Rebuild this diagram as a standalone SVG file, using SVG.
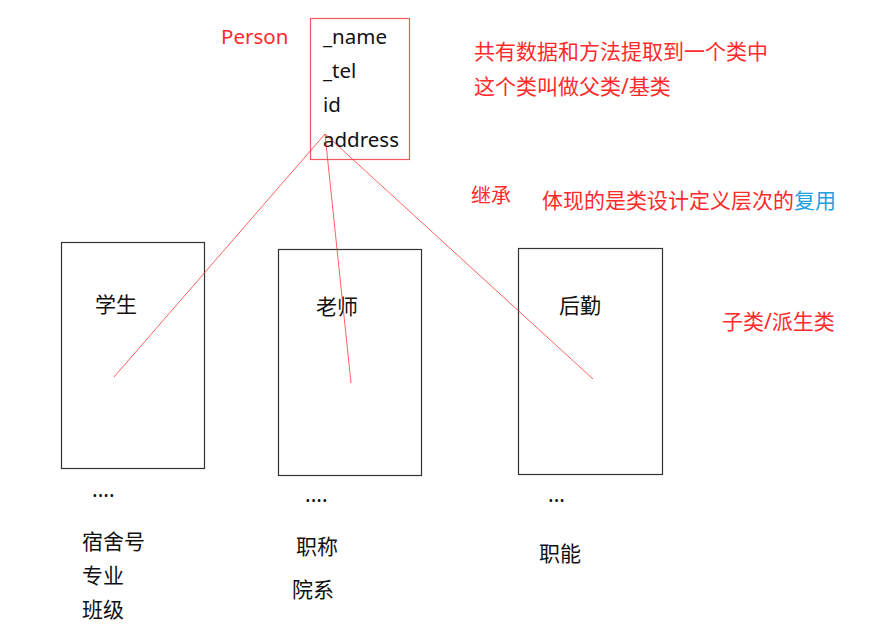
<svg xmlns="http://www.w3.org/2000/svg" width="885" height="643" viewBox="0 0 885 643">
<style>
text{font-family:"Noto Sans","Noto Sans CJK SC",sans-serif;font-size:21px;fill:#111}
.r{fill:#ff2a2a}
.b{fill:#1ea0e0}
.box{fill:none;stroke:#333;stroke-width:1.2}
.pbox{fill:none;stroke:#f05a5a;stroke-width:1.2}
.ln{stroke:#ff3030;stroke-width:0.9;stroke-opacity:0.85;fill:none}
.lat{font-size:20.5px}
</style>
<rect width="885" height="643" fill="#fff"/>
<g id="person">
<rect class="pbox" x="310.5" y="18.5" width="99" height="141"/>
<text class="r lat" x="221" y="44">Person</text>
<text class="lat" x="323" y="44">_name</text>
<text class="lat" x="323" y="78">_tel</text>
<text class="lat" x="323" y="112">id</text>
<text class="lat" x="323" y="147">address</text>
</g>
<g id="notes">
<text class="r" x="474" y="59">共有数据和方法提取到一个类中</text>
<text class="r" x="474" y="94">这个类叫做父类/基类</text>
<text class="r" x="471" y="203" style="font-size:20px">继承</text>
<text class="r" x="542" y="208">体现的是类设计定义层次的<tspan class="b">复用</tspan></text>
<text class="r" x="722" y="329">子类/派生类</text>
</g>
<g id="student">
<rect class="box" x="61.5" y="242.5" width="143" height="226"/>
<text x="95" y="312">学生</text>
<text x="92" y="497">....</text>
<text x="82" y="549">宿舍号</text>
<text x="82" y="583">专业</text>
<text x="82" y="617">班级</text>
</g>
<g id="teacher">
<rect class="box" x="278.5" y="249.5" width="143" height="226"/>
<text x="316" y="314">老师</text>
<text x="305" y="502">....</text>
<text x="296" y="554">职称</text>
<text x="292" y="597">院系</text>
</g>
<g id="logistics">
<rect class="box" x="518.5" y="248.5" width="144" height="226"/>
<text x="559" y="313">后勤</text>
<text x="548" y="502">...</text>
<text x="539" y="561">职能</text>
</g>
<g id="connectors">
<line class="ln" x1="325" y1="134" x2="114" y2="377"/>
<line class="ln" x1="325" y1="134" x2="351" y2="383"/>
<line class="ln" x1="325" y1="134" x2="593" y2="379"/>
</g>
</svg>
